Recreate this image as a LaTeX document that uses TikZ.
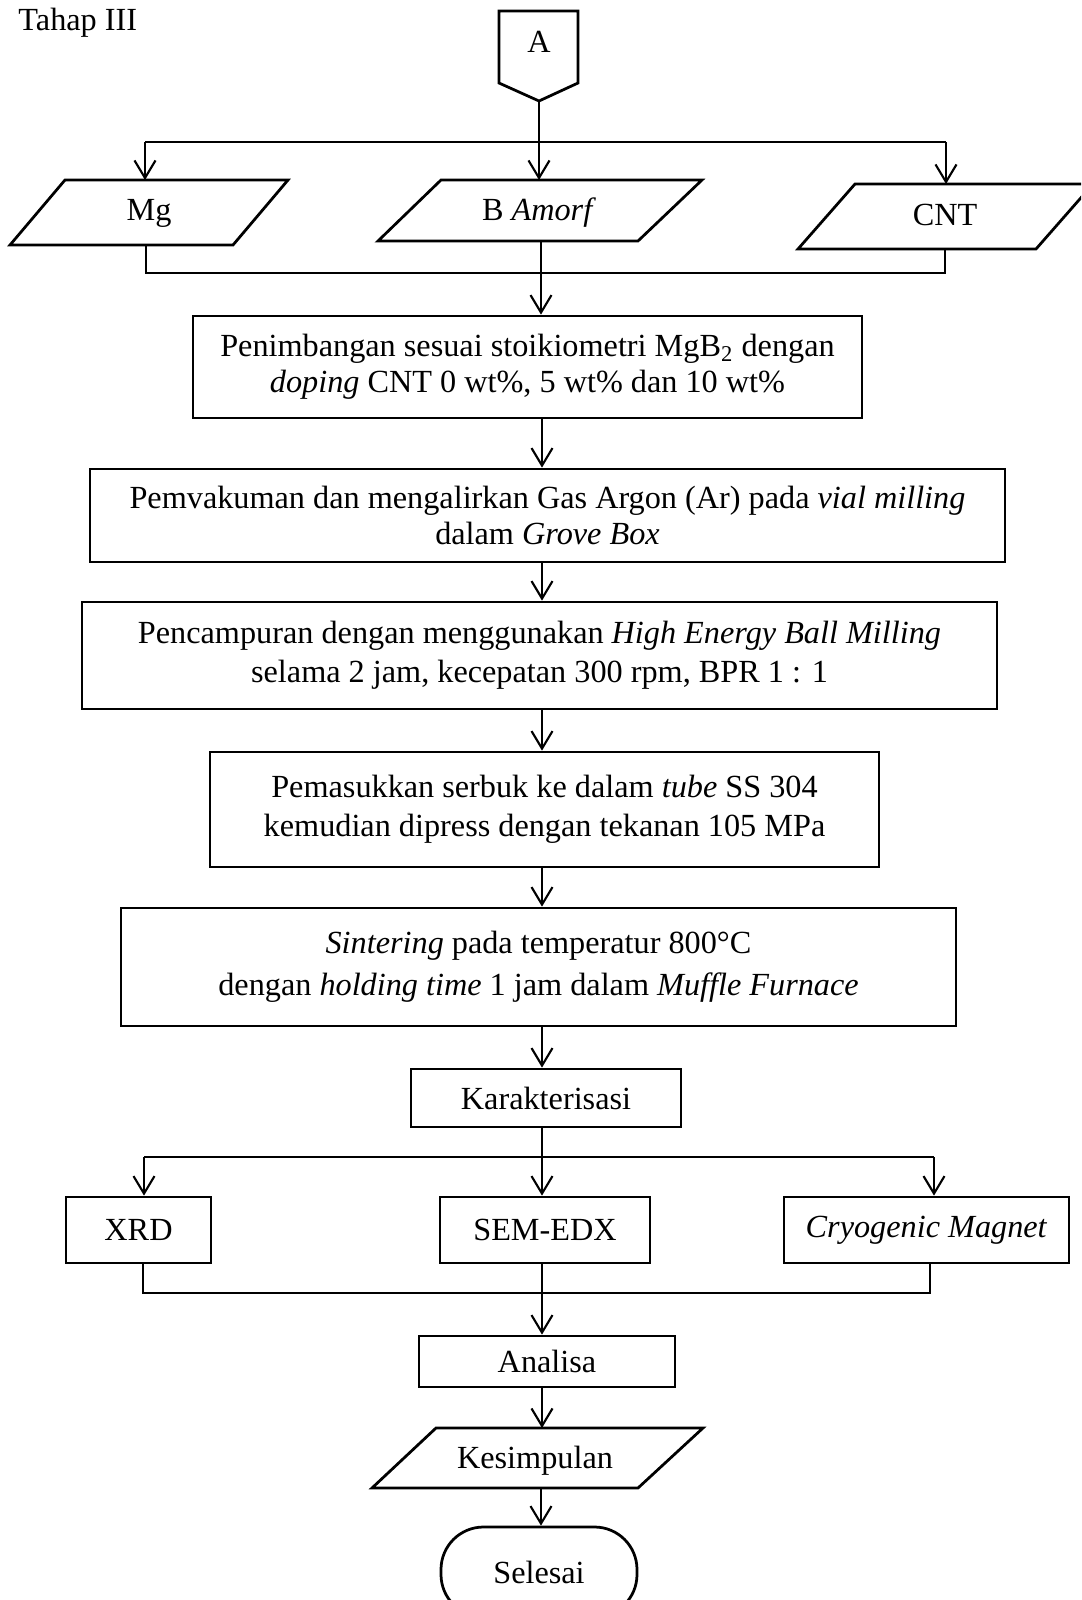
\documentclass[tikz,border=0pt]{standalone}
\usepackage{fontspec}
\setmainfont{Liberation Serif}
\usetikzlibrary{arrows.meta}
\begin{document}
\begin{tikzpicture}[x=0.4pt,y=-0.4pt,
  shp/.style={draw=black,line width=1.1pt,line join=miter},
  box/.style={shp,rectangle,inner sep=0pt,align=center},
  conn/.style={draw=black,line width=0.85pt},
  arr/.style={conn,-{Straight Barb[length=7pt,width=8.4pt]}},
  txt/.style={font=\fontsize{12.9}{15}\selectfont,inner sep=0pt},
  fa/.style={font=\fontsize{12.9}{14.4}\selectfont},
  fb/.style={font=\fontsize{12.9}{15.6}\selectfont},
  fc/.style={font=\fontsize{12.9}{16.8}\selectfont},
]
\useasboundingbox (0,0) rectangle (1081,1600);
\clip (0,0) rectangle (1081,1600);

\node[txt,anchor=base west] (tahap) at (18,30) {Tahap III};

% connector A
\draw[shp] (499,11) -- (578,11) -- (578,83) -- (539,101) -- (499,83) -- cycle;
\node[txt,anchor=base] (A) at (539,52) {A};
\coordinate (Atip) at (539,101);

% inputs
\draw[shp] (65,180) -- (288,180) -- (233,245) -- (10,245) -- cycle;
\node[txt,anchor=base] (mg) at (149,220) {Mg};
\draw[shp] (441,180) -- (702,180) -- (638,241) -- (378,241) -- cycle;
\node[txt,anchor=base] (bam) at (539,220) {B \textit{Amorf}};
\draw[shp] (855,184) -- (1093,184) -- (1036,249) -- (798,249) -- cycle;
\node[txt,anchor=base] (cnt) at (945,225) {CNT};

\coordinate (mgT) at (145,180);
\coordinate (mgB) at (146,245);
\coordinate (bT) at (539,180);
\coordinate (bB) at (541,241);
\coordinate (cntT) at (946,184);
\coordinate (cntB) at (945,249);
\coordinate (brL) at (145,142);
\coordinate (brR) at (946,142);
\coordinate (colL) at (146,273);
\coordinate (colR) at (945,273);
\coordinate (sp) at (542,0);

% process boxes
\node[box,fa,minimum width=267.6pt,minimum height=40.8pt] (b1) at (527.5,367)
  {Penimbangan sesuai stoikiometri MgB\textsubscript{2} dengan\\ \textit{doping} CNT 0 wt\%, 5 wt\% dan 10 wt\%};
\node[box,fa,minimum width=366pt,minimum height=37.2pt] (b2) at (547.5,515.5)
  {Pemvakuman dan mengalirkan Gas Argon (Ar) pada \textit{vial milling}\\ dalam \textit{Grove Box}};
\node[box,fb,minimum width=366pt,minimum height=42.8pt] (b3) at (539.5,655.5)
  {Pencampuran dengan menggunakan \textit{High Energy Ball Milling}\\ selama 2 jam, kecepatan 300 rpm, BPR 1 : 1};
\node[box,fb,minimum width=267.6pt,minimum height=46pt] (b4) at (544.5,809.5)
  {Pemasukkan serbuk ke dalam \textit{tube} SS 304\\ kemudian dipress dengan tekanan 105 MPa};
\node[box,fc,minimum width=334pt,minimum height=47.2pt] (b5) at (538.5,967)
  {\textit{Sintering} pada temperatur 800°C\\ dengan \textit{holding time} 1 jam dalam \textit{Muffle Furnace}};
\node[box,fa,minimum width=108pt,minimum height=23.2pt] (kar) at (546,1098) {Karakterisasi};
\node[box,fa,minimum width=58pt,minimum height=26.4pt] (xrd) at (138.5,1230) {XRD};
\node[box,fa,minimum width=84pt,minimum height=26.4pt] (sem) at (545,1230) {SEM-EDX};
\node[box,fa,minimum width=114pt,minimum height=26.4pt] (cryo) at (926.5,1230) {\textit{Cryogenic Magnet}};
\node[box,fa,minimum width=102.4pt,minimum height=20.4pt] (ana) at (547,1361.5) {Analisa};
\draw[shp] (436,1428) -- (703,1428) -- (638,1488) -- (372,1488) -- cycle;
\node[txt,anchor=base] (kes) at (535,1468) {Kesimpulan};
\coordinate (kesT) at (542,1428);
\coordinate (kesB) at (541,1488);
\node[shp,fa,rounded corners=17pt,minimum width=78.4pt,minimum height=36pt] (sel) at (539,1572) {Selesai};

\coordinate (xbr) at (144,1157);
\coordinate (kbr) at (542,1157);
\coordinate (cbr) at (934,1157);
\coordinate (xcol) at (143,1293);
\coordinate (ccol) at (930,1293);

% connectors top
\draw[conn] (Atip) -- (Atip |- brL);
\draw[conn] (brL) -- (brR);
\draw[arr] (brL) -- (mgT);
\draw[arr] (Atip |- brL) -- (bT);
\draw[arr] (brR) -- (cntT);
\draw[conn] (mgB) -- (colL) -- (colR) -- (cntB);
\draw[arr] (bB) -- (bB |- b1.north);

% process chain
\draw[arr] (b1.south -| sp) -- (b2.north -| sp);
\draw[arr] (b2.south -| sp) -- (b3.north -| sp);
\draw[arr] (b3.south -| sp) -- (b4.north -| sp);
\draw[arr] (b4.south -| sp) -- (b5.north -| sp);
\draw[arr] (b5.south -| sp) -- (kar.north -| sp);

% characterisation branching
\draw[conn] (kar.south -| sp) -- (kbr);
\draw[conn] (xbr) -- (cbr);
\draw[arr] (xbr) -- (xbr |- xrd.north);
\draw[arr] (kbr) -- (kbr |- sem.north);
\draw[arr] (cbr) -- (cbr |- cryo.north);
\draw[conn] (xcol |- xrd.south) -- (xcol) -- (ccol) -- (ccol |- cryo.south);
\draw[arr] (sem.south -| sp) -- (ana.north -| sp);
\draw[arr] (ana.south -| sp) -- (kesT);
\draw[arr] (kesB) -- (kesB |- sel.north);
\end{tikzpicture}
\end{document}
